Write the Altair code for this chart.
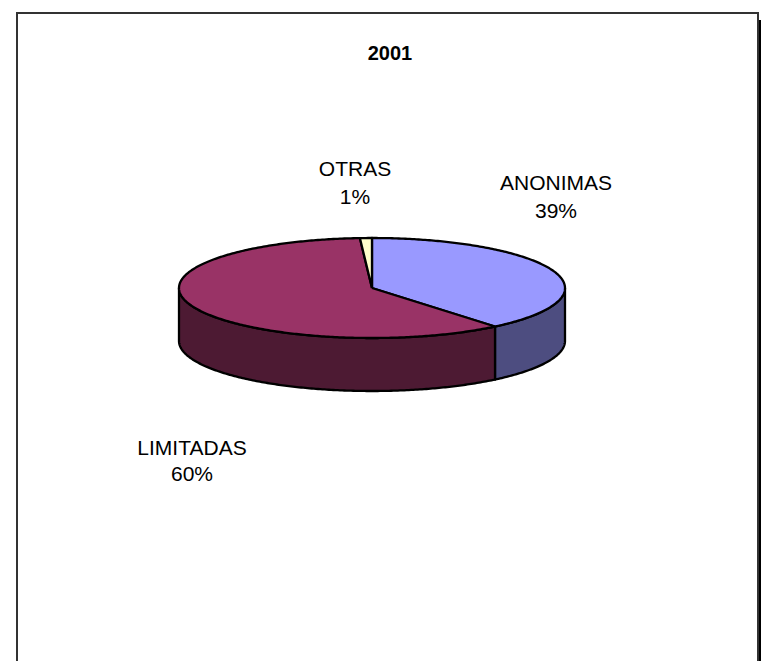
import math
import altair as alt
import pandas as pd

# Data
categories = ["ANONIMAS", "LIMITADAS", "OTRAS"]
shares = [39, 60, 1]
top_colors = ["#9999FF", "#993366", "#FFFFCC"]
wall_colors = ["#4D4D80", "#4D1A33", "#80806A"]
title_text = "2001"

W, H = 753, 653
CX, CY, RX, RY, DEPTH = 364, 280, 193, 50, 53  # pie placement, in chart pixels
depth_u = DEPTH / RY
x_scale = alt.Scale(domain=[-CX / RX, (W - CX) / RX], range=[0, W], nice=False, zero=False)
y_scale = alt.Scale(domain=[-(H - CY) / RY, CY / RY], range=[H, 0], nice=False, zero=False)


def rim(a0, a1, drop=0.0):
    n = max(2, int(abs(a1 - a0) * 1.5) + 1)
    pts = []
    for i in range(n + 1):
        a = math.radians(a0 + (a1 - a0) * i / n)
        pts.append((math.sin(a), math.cos(a) - drop))
    return pts


top_rows, wall_rows = [], []
start = 0.0
total = sum(shares)
for name, share in zip(categories, shares):
    end = start + 360.0 * share / total
    poly = [(0.0, 0.0)] + rim(start, end) + [(0.0, 0.0)]
    top_rows.append((name, poly))
    a0, a1 = max(start, 90.0), min(end, 270.0)
    if a1 > a0:
        wall_rows.append((name, rim(a0, a1) + rim(a1, a0, depth_u) + rim(a0, a0 + 0.001)[:1]))
    start = end


def shape(name, poly, color):
    df = pd.DataFrame([{"x": p[0], "y": p[1], "i": i} for i, p in enumerate(poly)])
    return alt.Chart(df).mark_line(
        fill=color, stroke="black", strokeWidth=2.3, strokeJoin="round", interpolate="linear", clip=False
    ).encode(
        x=alt.X("x:Q", scale=x_scale, axis=None),
        y=alt.Y("y:Q", scale=y_scale, axis=None),
        order=alt.Order("i:Q"),
    )


layers = []

# page panel: drop shadow and frame
shadow = alt.Chart(pd.DataFrame({"a": [0]})).mark_rect(color="black").encode(
    x=alt.value(15), x2=alt.value(W), y=alt.value(12), y2=alt.value(H + 20)
)
frame = alt.Chart(pd.DataFrame({"a": [0]})).mark_rect(
    fill="white", stroke="#333333", strokeWidth=2
).encode(x=alt.value(9), x2=alt.value(750), y=alt.value(5), y2=alt.value(H + 20))
layers += [shadow, frame]

color_of = dict(zip(categories, wall_colors))
for name, poly in wall_rows:
    layers.append(shape(name, poly, color_of[name]))
color_of = dict(zip(categories, top_colors))
for name, poly in top_rows:
    layers.append(shape(name, poly, color_of[name]))

# labels: placed in pixels
label_x = [548, 184, 347]
label_y = [176, 441, 162]
pct_x = [548, 184, 347]
pct_y = [204, 467, 190]
label_rows = []
for name, lx, ly in zip(categories, label_x, label_y):
    label_rows.append({"t": name, "px": lx, "py": ly})
for share, lx, ly in zip(shares, pct_x, pct_y):
    label_rows.append({"t": f"{share}%", "px": lx, "py": ly})

for r in label_rows:
    layers.append(
        alt.Chart(pd.DataFrame([{"t": r["t"]}])).mark_text(
            font="Liberation Sans", fontSize=21, color="black", align="center", baseline="middle"
        ).encode(text="t:N", x=alt.value(r["px"]), y=alt.value(r["py"]))
    )

layers.append(
    alt.Chart(pd.DataFrame([{"t": title_text}])).mark_text(
        font="Liberation Sans", fontSize=20, fontWeight="bold", color="black", align="center", baseline="middle"
    ).encode(text="t:N", x=alt.value(382), y=alt.value(46))
)

chart = alt.layer(*layers).properties(
    width=W, height=H, padding=0, autosize=alt.AutoSizeParams(type="none")
).configure_view(stroke=None, clip=False)

chart.save("out.html", embed_options={"renderer": "svg", "actions": False})
